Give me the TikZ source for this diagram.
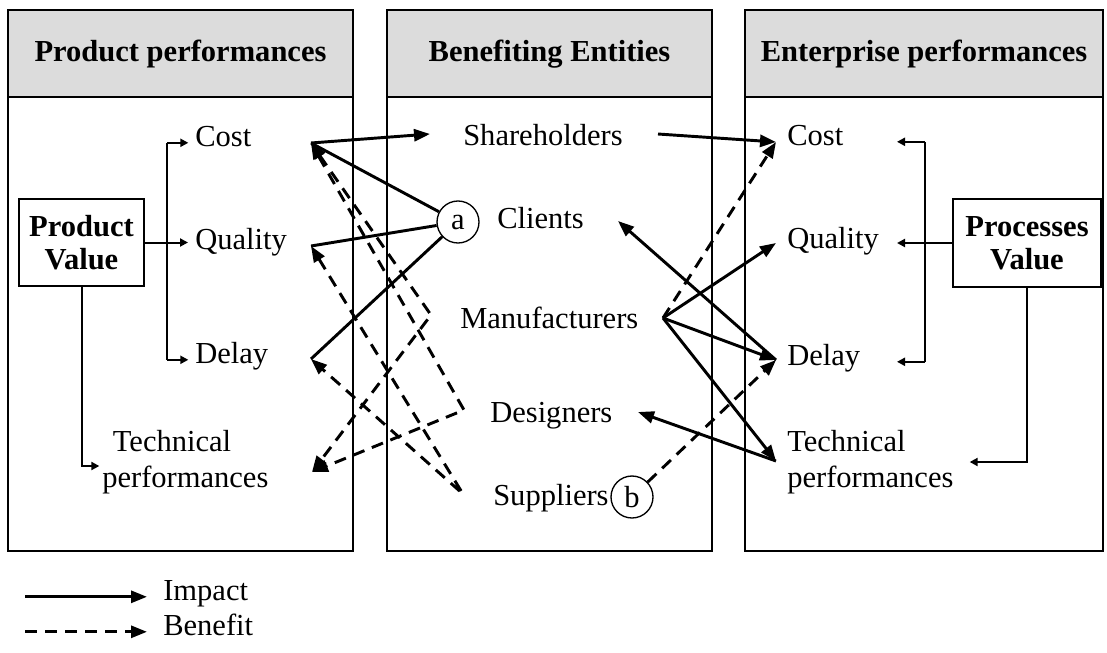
\documentclass[tikz,border=0pt]{standalone}
\usepackage{fontspec}
\setmainfont{Liberation Serif}
\usetikzlibrary{arrows.meta,positioning,calc}
\definecolor{headgray}{RGB}{220,220,220}

\begin{document}
\begin{tikzpicture}[x=0.75pt,y=-0.75pt,
    font=\fontsize{22.9}{27}\selectfont,
    >={Triangle[length=12pt,width=9pt]},
    lbl/.style={anchor=base west, inner sep=0pt, text height=0.68em, text depth=0.2em},
    twoline/.style={anchor=west, inner sep=0pt, align=left},
    head/.style={draw, line width=1.1pt, fill=headgray},
    panel/.style={draw, line width=1.1pt},
    headtxt/.style={font=\fontsize{22.9}{27}\selectfont\bfseries},
    valbox/.style={draw, line width=1.1pt, align=center, inner sep=0pt,
        font=\fontsize{22.9}{24.8}\selectfont\bfseries},
    ent/.style={draw, circle, line width=1pt, inner sep=0pt, minimum size=31.5pt},
    impact/.style={line width=2.2pt, ->},
    link/.style={line width=2.2pt},
    benefit/.style={line width=2.2pt, dash pattern=on 9pt off 6pt},
    brk/.style={line width=1.5pt},
    brkarr/.style={line width=1.5pt, -{Triangle[length=6pt,width=6pt]}},
  ]
  \useasboundingbox (0,0) rectangle (1107,653);

  % three panels
  \foreach \xa/\xb in {8/353, 387/712, 745/1103} {
    \draw[head] (\xa,10) rectangle (\xb,97);
    \draw[panel] (\xa,97) rectangle (\xb,551);
  }
  \node[headtxt] (hprod) at (180.5,54) {Product performances};
  \node[headtxt] (hent) at (549.5,54) {Benefiting Entities};
  \node[headtxt] (hentr) at (924,54) {Enterprise performances};

  % product performances
  \node[valbox, minimum width=93.75pt, minimum height=65.25pt] (pv) at (81.5,242.5) {Product\\Value};
  \node[lbl] (pcost) at (195,146) {Cost};
  \node[lbl] (pqual) at (195,249) {Quality};
  \node[lbl] (pdelay) at (195,363) {Delay};
  \node[twoline] (ptech) at (102,462) {\hspace*{8pt}Technical\\performances};

  \coordinate (lbr) at (167,0);
  \draw[brk] (lbr |- pcost.west) -- (lbr |- pdelay.west);
  \draw[brkarr] (lbr |- pcost.west) -- ([xshift=-5pt]pcost.west);
  \draw[brkarr] (pv.east) -- ($(pv.east -| pqual.west)+(-7,0)$);
  \draw[brkarr] (lbr |- pdelay.west) -- ([xshift=-5pt]pdelay.west);
  \draw[brkarr] (pv.south) |- ([xshift=-2pt,yshift=-3pt]ptech.west);

  % benefiting entities
  \node[lbl] (share) at (463,145) {Shareholders};
  \node[lbl] (client) at (497,228) {Clients};
  \node[lbl] (manuf) at (460,328) {Manufacturers};
  \node[lbl] (design) at (490,422) {Designers};
  \node[lbl] (suppl) at (493,505) {Suppliers};
  \node[ent] (ca) at (458,222) {a};
  \node[ent] (cb) at (632,497) {b};

  % enterprise performances
  \node[valbox, minimum width=111pt, minimum height=66pt] (ev) at (1027,243) {Processes\\Value};
  \node[lbl] (ecost) at (787,145) {Cost};
  \node[lbl] (equal) at (787,248) {Quality};
  \node[lbl] (edelay) at (787,365) {Delay};
  \node[twoline] (etech) at (787,462) {Technical\\performances};

  \coordinate (rbr) at (925,0);
  \coordinate (rtip) at (897,0);
  \draw[brk] (rbr |- ecost.west) -- (rbr |- edelay.west);
  \draw[brkarr] (rbr |- ecost.west) -- (rtip |- ecost.west);
  \draw[brkarr] (ev.west) -- (rtip |- ev.west);
  \draw[brkarr] (rbr |- edelay.west) -- (rtip |- edelay.west);
  \draw[brkarr] (ev.south) |- ([xshift=12pt]etech.east);

  % connection points
  \coordinate (lc) at (311,143);
  \coordinate (lq) at (311,246);
  \coordinate (ld) at (311,359);
  \coordinate (lt) at (312,472);
  \coordinate (rc) at (776,142);
  \coordinate (rq) at (776,243);
  \coordinate (rd) at (776,360);
  \coordinate (rt) at (776,461);
  \coordinate (shin) at (430,134);
  \coordinate (shout) at (658,134);
  \coordinate (clin) at (618,221);
  \coordinate (dsin) at (638,412);
  \coordinate (v1) at (431,315);
  \coordinate (v2) at (464,410);
  \coordinate (v3) at (463,494);
  \coordinate (vm) at (663,318);

  % impact
  \draw[impact] (lc) -- (shin);
  \draw[impact] (shout) -- (rc);
  \foreach \t in {lc,lq,ld} \draw[link] (ca) -- (\t);
  \foreach \t in {rq,rd,rt} \draw[impact] (vm) -- (\t);
  \draw[impact] (rd) -- (clin);
  \draw[impact] (rt) -- (dsin);

  % benefit
  \draw[benefit,<->] (lc) -- (v1) -- (lt);
  \draw[benefit,<->] (lc) -- (v2) -- (lt);
  \draw[benefit,<->] (lq) -- (v3) -- (ld);
  \draw[benefit,->] (vm) -- (rc);
  \draw[benefit,->] (cb) -- (rd);

  % legend
  \node[lbl] (limp) at (163,600) {Impact};
  \node[lbl] (lben) at (163,635) {Benefit};
  \coordinate (legs) at (25,0);
  \draw[impact] (legs |- limp.west) -- ([xshift=-12pt]limp.west);
  \draw[benefit,->] (legs |- lben.west) -- ([xshift=-12pt]lben.west);
\end{tikzpicture}
\end{document}
